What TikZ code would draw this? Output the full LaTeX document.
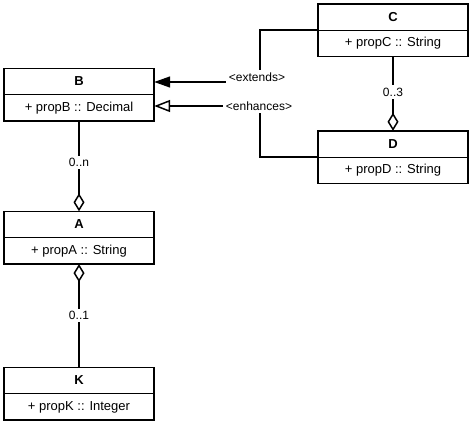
\documentclass[tikz,border=0pt]{standalone}
\usepackage{fontspec}
\setmainfont{Liberation Sans}
\usetikzlibrary{arrows.meta,positioning}

\tikzset{
  classtitle/.style={minimum width=150pt,minimum height=26pt,inner sep=0pt,font=\fontsize{13}{15}\selectfont\bfseries},
  classattr/.style={minimum width=150pt,minimum height=26pt,inner sep=0pt,font=\fontsize{13}{15}\selectfont},
  boxline/.style={line width=1.5pt},
  divline/.style={line width=0.6pt},
  connline/.style={line width=1.5pt},
  lbl/.style={fill=white,inner sep=2.5pt,font=\fontsize{12}{14}\selectfont},
}

\begin{document}
\begin{tikzpicture}[x=1pt,y=-1pt]
  \useasboundingbox (0,0) rectangle (473,423);

  % Classes
  \node[classtitle] (B) at (79,81.5) {B};
  \node[classattr,below=0pt of B] (B-attr) {+ propB :: Decimal};
  \node[classtitle] (C) at (393,17) {C};
  \node[classattr,below=0pt of C] (C-attr) {+ propC :: String};
  \node[classtitle] (D) at (393,144) {D};
  \node[classattr,below=0pt of D] (D-attr) {+ propD :: String};
  \node[classtitle] (A) at (79,224.5) {A};
  \node[classattr,below=0pt of A] (A-attr) {+ propA :: String};
  \node[classtitle] (K) at (79,380.5) {K};
  \node[classattr,below=0pt of K] (K-attr) {+ propK :: Integer};

  \foreach \c in {A,B,C,D,K} {
    \draw[boxline] (\c.north west) rectangle (\c-attr.south east);
    \draw[divline] (\c.south west) -- (\c.south east);
  }

  % Generalisations
  \coordinate (ext) at (260,82);
  \coordinate (enh) at (260,106);
  \draw[connline,-{Triangle[length=16pt,width=11pt]}] (C.south west) -| (ext) -- (ext -| B.east);
  \draw[connline,-{Triangle[fill=white,length=16pt,width=12pt]}] (D.south west) -| (enh) -- (enh -| B-attr.east);
  \node[lbl] (ext-lbl) at (257,77) {<extends>};
  \node[lbl] (enh-lbl) at (259,106) {<enhances>};

  % Aggregations
  \draw[connline,-{Diamond[fill=white,length=18pt,width=11pt]}] (C-attr.south) -- (D.north) node[lbl,pos=0.48] (cd) {0..3};
  \draw[connline,-{Diamond[fill=white,length=18pt,width=11pt]}] (B-attr.south) -- (A.north) node[lbl,pos=0.46] (ba) {0..n};
  \draw[connline,{Diamond[fill=white,length=18pt,width=11pt]}-] (A-attr.south) -- (K.north) node[lbl,pos=0.5] (ak) {0..1};
\end{tikzpicture}
\end{document}
